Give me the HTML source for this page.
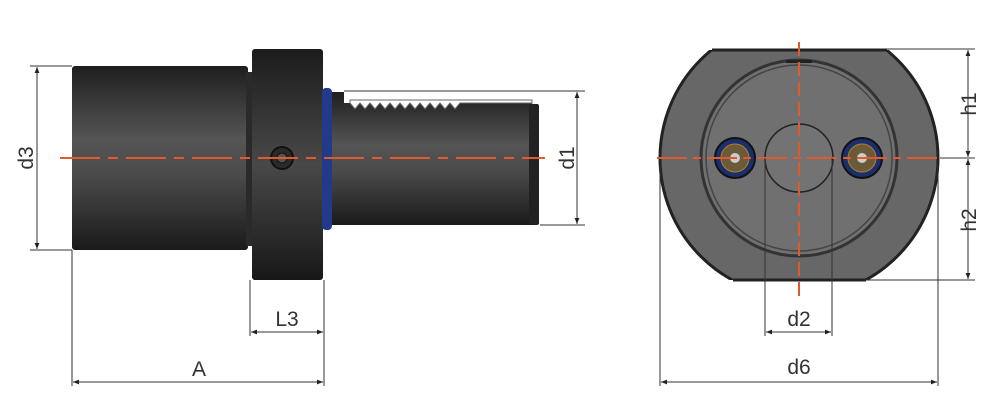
<!DOCTYPE html>
<html><head><meta charset="utf-8"><style>
html,body{margin:0;padding:0;background:#fff;width:1000px;height:409px;overflow:hidden}
svg{display:block}
text{font-family:"Liberation Sans",sans-serif;font-size:21px;fill:#333}
</style></head><body>
<svg width="1000" height="409" viewBox="0 0 1000 409" xmlns="http://www.w3.org/2000/svg">
<defs>
<linearGradient id="cyl" x1="0" y1="0" x2="0" y2="1">
<stop offset="0" stop-color="#1e1e1e"/><stop offset="0.4" stop-color="#555"/><stop offset="0.6" stop-color="#4a4a4a"/><stop offset="1" stop-color="#1a1a1a"/>
</linearGradient>
<linearGradient id="fl" x1="0" y1="0" x2="0" y2="1">
<stop offset="0" stop-color="#1c1c1c"/><stop offset="0.5" stop-color="#484848"/><stop offset="1" stop-color="#181818"/>
</linearGradient>
<marker id="ar" viewBox="0 0 10 10" refX="10" refY="5" markerWidth="10" markerHeight="6" orient="auto-start-reverse" markerUnits="userSpaceOnUse"><path d="M0,1 L10,5 L0,9z" fill="#222"/></marker>
</defs>
<!-- left view -->
<rect x="72" y="66" width="176" height="184" rx="3" fill="url(#cyl)"/>
<rect x="246" y="72" width="6" height="174" fill="#2a2a2a"/>
<rect x="252" y="49" width="71" height="231" rx="3" fill="url(#fl)"/>
<rect x="322" y="88" width="10" height="142" rx="4" fill="#233a8a"/>
<path d="M332,92 L344,92 L344,103 L532,103 L532,225 L332,225z" fill="url(#cyl)"/>
<path d="M350,103 l5,6 l5,-6 l5,6 l5,-6 l5,6 l5,-6 l5,6 l5,-6 l5,6 l5,-6 l5,6 l5,-6 l5,6 l5,-6 l5,6 l5,-6 l5,6 l5,-6 l5,6 l5,-6 l5,6 l5,-6 L532,103 L532,100 L350,100z" fill="#fff" stroke="#666" stroke-width="1"/>
<rect x="529" y="104" width="10" height="121" rx="2" fill="#222"/>
<circle cx="282" cy="158" r="11" fill="#2a2a2a" stroke="#111" stroke-width="2"/>
<circle cx="282" cy="158" r="5" fill="#555" stroke="#111"/>
<line x1="60" y1="158" x2="545" y2="158" stroke="#e05a30" stroke-width="2" stroke-dasharray="40,8,10,8"/>
<!-- left dims -->
<g stroke="#333" stroke-width="1" fill="none">
<line x1="30" y1="66" x2="72" y2="66"/><line x1="30" y1="250" x2="72" y2="250"/>
<line x1="37" y1="67" x2="37" y2="249" marker-start="url(#ar)" marker-end="url(#ar)"/>
<line x1="344" y1="91" x2="585" y2="91"/><line x1="540" y1="225" x2="585" y2="225"/>
<line x1="577" y1="92" x2="577" y2="224" marker-start="url(#ar)" marker-end="url(#ar)"/>
<line x1="72" y1="250" x2="72" y2="386"/><line x1="250" y1="280" x2="250" y2="336"/><line x1="324" y1="280" x2="324" y2="386"/>
<line x1="251" y1="332" x2="323" y2="332" marker-start="url(#ar)" marker-end="url(#ar)"/>
<line x1="73" y1="382" x2="323" y2="382" marker-start="url(#ar)" marker-end="url(#ar)"/>
</g>
<text x="287" y="326" text-anchor="middle">L3</text>
<text x="199" y="376" text-anchor="middle">A</text>
<text transform="translate(33,158) rotate(-90)" text-anchor="middle">d3</text>
<text transform="translate(574,158) rotate(-90)" text-anchor="middle">d1</text>
<!-- right view -->
<clipPath id="cp"><rect x="650" y="50" width="300" height="230"/></clipPath>
<circle cx="799" cy="158" r="139" fill="#676767" stroke="#222" stroke-width="3" clip-path="url(#cp)"/>
<line x1="712" y1="50" x2="887" y2="50" stroke="#222" stroke-width="3"/>
<line x1="733" y1="280" x2="866" y2="280" stroke="#222" stroke-width="3"/>
<circle cx="799" cy="158" r="98" fill="#707070" stroke="#333" stroke-width="3"/>
<circle cx="799" cy="158" r="93" fill="none" stroke="#444" stroke-width="1.5"/>
<circle cx="799" cy="158" r="34" fill="#737373" stroke="#222" stroke-width="1.5"/>
<rect x="786" y="60" width="26" height="3" fill="#222"/>
<g>
<circle cx="735" cy="158" r="20" fill="#1a2f70" stroke="#111" stroke-width="2"/>
<circle cx="735" cy="158" r="14" fill="#6a5a3a" stroke="#b08020"/>
<circle cx="735" cy="158" r="5" fill="#ccc"/>
<circle cx="862" cy="158" r="20" fill="#1a2f70" stroke="#111" stroke-width="2"/>
<circle cx="862" cy="158" r="14" fill="#6a5a3a" stroke="#b08020"/>
<circle cx="862" cy="158" r="5" fill="#ccc"/>
</g>
<line x1="657" y1="158" x2="940" y2="158" stroke="#e05a30" stroke-width="2" stroke-dasharray="30,6,8,6"/>
<line x1="799" y1="42" x2="799" y2="300" stroke="#e05a30" stroke-width="2" stroke-dasharray="14,6"/>
<g stroke="#333" stroke-width="1" fill="none">
<line x1="765" y1="158" x2="765" y2="336"/><line x1="832" y1="158" x2="832" y2="336"/>
<line x1="766" y1="332" x2="831" y2="332" marker-start="url(#ar)" marker-end="url(#ar)"/>
<line x1="660" y1="165" x2="660" y2="386"/><line x1="938" y1="165" x2="938" y2="386"/>
<line x1="661" y1="382" x2="937" y2="382" marker-start="url(#ar)" marker-end="url(#ar)"/>
<line x1="887" y1="49" x2="975" y2="49"/><line x1="940" y1="158" x2="975" y2="158"/><line x1="866" y1="280" x2="975" y2="280"/>
<line x1="968" y1="50" x2="968" y2="157" marker-start="url(#ar)" marker-end="url(#ar)"/>
<line x1="968" y1="159" x2="968" y2="279" marker-start="url(#ar)" marker-end="url(#ar)"/>
</g>
<text x="799" y="326" text-anchor="middle">d2</text>
<text x="799" y="374" text-anchor="middle">d6</text>
<text transform="translate(976,104) rotate(-90)" text-anchor="middle">h1</text>
<text transform="translate(976,220) rotate(-90)" text-anchor="middle">h2</text>
</svg>
</body></html>
